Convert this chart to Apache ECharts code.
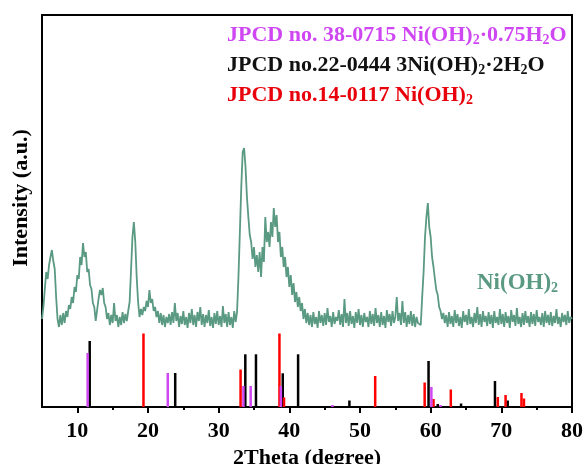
<!DOCTYPE html>
<html><head><meta charset="utf-8">
<script src="https://cdn.jsdelivr.net/npm/echarts@6/dist/echarts.min.js"></script>
<style>html,body{margin:0;padding:0;background:#fff;overflow:hidden}#c{width:583px;height:464px}</style>
</head><body><div id="c"></div>
<script>
// XRD curve sampled every 0.2 degree from 5 to 80 (intensity in arbitrary units)
const curveStart = 5;
const curveStep = 0.2;
const curveValues = [
 88,100,118,135,128,142,150,157,146,138,
 110,88,80,92,82,94,84,96,90,102,
 98,110,104,120,115,132,128,150,142,164,
 150,155,135,138,122,118,104,100,86,97,
 108,117,112,119,104,100,88,94,82,92,
 84,104,86,92,80,90,82,95,84,93,
 86,96,105,137,170,185,165,130,105,90,
 98,92,100,96,106,100,117,104,108,96,
 100,90,96,84,94,82,92,80,90,84,
 93,82,95,84,104,86,94,80,91,83,
 96,82,90,79,94,84,98,82,92,80,
 95,86,100,82,93,80,92,84,97,81,
 90,79,94,83,96,82,91,80,101,84,
 93,80,95,82,90,79,96,85,95,130,
 175,220,255,259,240,210,190,172,165,148,
 160,140,152,135,155,130,160,145,190,165,
 175,160,185,170,199,180,192,165,175,150,
 160,140,150,130,140,120,132,112,124,105,
 115,100,110,96,104,88,98,84,94,82,
 92,80,95,83,90,79,96,84,92,81,
 94,82,99,85,91,80,95,83,90,86,
 97,82,93,80,108,84,94,81,96,83,
 91,79,95,84,98,82,92,80,94,85,
 90,80,96,83,93,81,99,84,92,80,
 95,82,91,79,97,85,93,81,96,84,
 90,110,86,94,82,106,84,95,80,92,
 83,96,81,93,80,90,84,86,82,110,
 135,170,190,204,180,170,150,140,128,117,
 112,100,96,88,94,84,92,80,95,83,
 91,80,97,84,93,81,90,79,96,85,
 92,82,98,83,90,80,94,84,100,82,
 93,80,96,85,91,81,95,83,92,79,
 96,84,90,82,98,83,93,80,95,84,
 91,79,97,85,92,81,99,83,90,80,
 94,82,96,84,91,80,95,83,93,81,
 97,85,90,82,94,80,96,84,92,82,
 95,81,91,84,98,83,90,80,94,85,
 92,82,96,84,90,88
];

// Reference patterns: peak positions (2theta) and relative heights
const pdf38Pos = [11.46, 22.8, 33.5, 34.53, 38.8, 46.1, 60.1, 61.4];
const pdf38H   = [54, 34, 21, 21, 21, 2, 20, 2];
const pdf22Pos = [11.75, 23.85, 33.77, 35.28, 39.07, 41.24, 48.5, 59.7, 61.0, 64.3, 69.1, 70.9];
const pdf22H   = [66, 34, 52.7, 52.7, 33.7, 52.7, 6.5, 46, 3, 3.5, 26, 6.5];
const pdf14Pos = [19.36, 33.1, 38.6, 39.25, 52.15, 59.15, 60.4, 62.85, 69.5, 70.6, 72.85, 73.2];
const pdf14H   = [73.5, 37.5, 73.5, 9.5, 31, 24.5, 8, 17.5, 10, 12, 14, 8.5];

const majorTicks = [10, 20, 30, 40, 50, 60, 70, 80];
const minorTicks = [15, 25, 35, 45, 55, 65, 75];

const FONT = "'Liberation Serif','Times New Roman',serif";
const GREEN = '#5a9982';
const PURPLE = '#cf46f3';
const RED = '#e8000b';

const curveData = curveValues.map((v, i) => [+(curveStart + curveStep * i).toFixed(2), v]);
const pairs = (p, h) => p.map((x, i) => [x, h[i]]);

function richFor(color, size) {
  return {
    a: {color: color, fontSize: size, fontWeight: 'bold', fontFamily: FONT, lineHeight: 26},
    s: {color: color, fontSize: Math.round(size * 0.62), fontWeight: 'bold', fontFamily: FONT, padding: [11, 0, 0, 0]}
  };
}

const chart = echarts.init(document.getElementById('c'), null, {renderer: 'canvas'});
chart.setOption({
  animation: false,
  backgroundColor: '#fff',
  title: [
    {text: '{a|JPCD no. 38-0715 Ni(OH)}{s|2}{a|·0.75H}{s|2}{a|O}', left: 227, top: 22, padding: 0,
     textStyle: {rich: richFor(PURPLE, 22)}},
    {text: '{a|JPCD no.22-0444 3Ni(OH)}{s|2}{a|·2H}{s|2}{a|O}', left: 227, top: 52, padding: 0,
     textStyle: {rich: richFor('#111', 22)}},
    {text: '{a|JPCD no.14-0117 Ni(OH)}{s|2}', left: 227, top: 82, padding: 0,
     textStyle: {rich: richFor(RED, 22)}},
    {text: '{a|Ni(OH)}{s|2}', left: 477, top: 270, padding: 0,
     textStyle: {rich: richFor(GREEN, 23)}}
  ],
  grid: {left: 42, right: 11, top: 15, bottom: 57, show: true, borderColor: '#000', borderWidth: 2,
         containLabel: false, outerBoundsMode: 'none'},
  xAxis: [
    {type: 'value', min: 5, max: 80, position: 'bottom',
     name: '2Theta (degree)', nameLocation: 'middle', nameGap: 35,
     nameTextStyle: {fontFamily: FONT, fontWeight: 'bold', fontSize: 22, color: '#000'},
     axisLine: {lineStyle: {color: '#000', width: 2}},
     axisTick: {show: true, length: 6, lineStyle: {color: '#000', width: 2}, customValues: majorTicks},
     axisLabel: {customValues: majorTicks, margin: 13, fontFamily: FONT, fontWeight: 'bold', fontSize: 22, color: '#000'},
     splitLine: {show: false}},
    {type: 'value', min: 5, max: 80, position: 'bottom',
     axisLine: {show: false},
     axisTick: {show: true, length: 3, lineStyle: {color: '#000', width: 2}, customValues: minorTicks},
     axisLabel: {show: false}, splitLine: {show: false}}
  ],
  yAxis: {type: 'value', min: 0, max: 392,
    name: 'Intensity (a.u.)', nameLocation: 'middle', nameGap: 10,
    nameTextStyle: {fontFamily: FONT, fontWeight: 'bold', fontSize: 22, color: '#000', padding: [0, 0, 0, 26]},
    axisLine: {show: true, lineStyle: {color: '#000', width: 2}},
    axisTick: {show: false}, axisLabel: {show: false}, splitLine: {show: false}},
  series: [
    {type: 'line', data: curveData, showSymbol: false, lineStyle: {color: GREEN, width: 1.8}, z: 3},
    {type: 'bar', name: '22-0444', data: pairs(pdf22Pos, pdf22H), barWidth: 2.5, barGap: '-100%', itemStyle: {color: '#000'}, z: 2},
    {type: 'bar', name: '14-0117', data: pairs(pdf14Pos, pdf14H), barWidth: 2.5, barGap: '-100%', itemStyle: {color: '#ff0000'}, z: 2},
    {type: 'bar', name: '38-0715', data: pairs(pdf38Pos, pdf38H), barWidth: 2.5, barGap: '-100%', itemStyle: {color: PURPLE}, z: 2}
  ]
});
</script>
</body></html>
